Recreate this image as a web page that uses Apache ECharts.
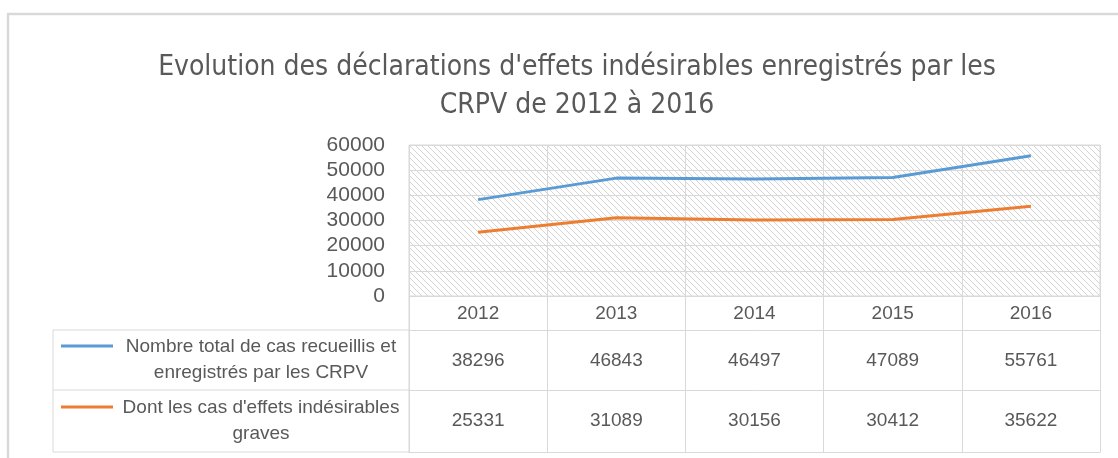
<!DOCTYPE html>
<html>
<head>
<meta charset="utf-8">
<script src="https://cdn.jsdelivr.net/npm/echarts@6/dist/echarts.min.js"></script>
<style>
html,body{margin:0;padding:0;background:#fff;}
#chart{width:1118px;height:458px;}
</style>
</head>
<body>
<div id="chart"></div>
<script>
const titleText = "Evolution des déclarations d'effets indésirables enregistrés par les\nCRPV de 2012 à 2016";
const years = ['2012', '2013', '2014', '2015', '2016'];
const seriesNames = [
  'Nombre total de cas recueillis et\nenregistrés par les CRPV',
  "Dont les cas d'effets indésirables\ngraves"
];
const totalCases = [38296, 46843, 46497, 47089, 55761];
const seriousCases = [25331, 31089, 30156, 30412, 35622];
const yTicks = [0, 10000, 20000, 30000, 40000, 50000, 60000];

const colors = ['#5b9bd5', '#ed7d31'];
const textColor = '#595959';
const lineGray = '#d9d9d9';
const font = 'Liberation Sans, Arial, sans-serif';

// hatch pattern
const tile = document.createElement('canvas');
tile.width = 6; tile.height = 6;
const ctx = tile.getContext('2d');
ctx.fillStyle = '#ffffff';
ctx.fillRect(0, 0, 6, 6);
ctx.strokeStyle = '#d4d4d4';
ctx.lineWidth = 1;
ctx.beginPath();
ctx.moveTo(-1, -1); ctx.lineTo(7, 7);
ctx.moveTo(-1, 5); ctx.lineTo(1, 7);
ctx.moveTo(5, -1); ctx.lineTo(7, 1);
ctx.stroke();

const gridLeft = 409, gridTop = 145, gridRight = 18, gridH = 151;
const plotBottom = gridTop + gridH; // 296
const row1 = 330, row2 = 390, tableBottom = 452;
const colLeft = 53;

const chart = echarts.init(document.getElementById('chart'), null, {renderer: 'canvas'});

function valueAxis(idx, offset, values, margin, showLine) {
  return {
    type: 'category', gridIndex: 0, position: 'bottom', offset: offset,
    data: years, boundaryGap: true,
    axisLine: {show: showLine, lineStyle: {color: lineGray, width: 1}},
    axisTick: {show: false},
    splitLine: {show: false},
    axisLabel: {
      show: values !== null, margin: margin, color: textColor, fontSize: 19, fontFamily: font,
      formatter: function (v, i) { return values ? String(values[i]) : ''; }
    }
  };
}

const legendGraphics = [];
[[row1, row2], [row2, tableBottom]].forEach(function (r, i) {
  const mid = (r[0] + r[1]) / 2;
  legendGraphics.push({
    type: 'line', shape: {x1: 61, y1: mid - 14, x2: 113, y2: mid - 14},
    style: {stroke: colors[i], lineWidth: 3}
  });
  legendGraphics.push({
    type: 'text', x: 261, y: mid,
    style: {text: seriesNames[i], fill: textColor, font: '19px ' + font,
      align: 'center', verticalAlign: 'middle', lineHeight: 26}
  });
});

const option = {
  backgroundColor: '#ffffff',
  animation: false,
  title: {
    text: titleText, left: 572, top: 44, textAlign: 'center',
    textStyle: {color: textColor, fontSize: 28, fontWeight: 'normal',
      fontFamily: 'Liberation Sans Narrow, DejaVu Sans Condensed, sans-serif', lineHeight: 38}
  },
  grid: {
    left: gridLeft, top: gridTop, right: gridRight, height: gridH,
    show: true, backgroundColor: {image: tile, repeat: 'repeat'},
    borderColor: lineGray, borderWidth: 1
  },
  xAxis: [
    {
      type: 'category', data: years, boundaryGap: true, position: 'bottom',
      axisLine: {show: true, lineStyle: {color: lineGray}},
      axisTick: {show: true, length: tableBottom - plotBottom, lineStyle: {color: lineGray}},
      splitLine: {show: true, lineStyle: {color: lineGray}},
      axisLabel: {margin: 8, color: textColor, fontSize: 19, fontFamily: font}
    },
    valueAxis(1, row1 - plotBottom, totalCases, 21, true),
    valueAxis(2, row2 - plotBottom, seriousCases, 21, true),
    valueAxis(3, tableBottom - plotBottom, null, 8, true)
  ],
  yAxis: {
    type: 'value', min: yTicks[0], max: yTicks[yTicks.length - 1], interval: yTicks[1] - yTicks[0],
    axisLine: {show: false}, axisTick: {show: false},
    splitLine: {show: true, lineStyle: {color: lineGray}},
    axisLabel: {margin: 24, color: textColor, fontSize: 21, fontFamily: font,
      formatter: function (v) { return String(v); }}
  },
  series: [
    {name: seriesNames[0], type: 'line', data: totalCases, showSymbol: false, symbol: 'none',
      lineStyle: {color: colors[0], width: 3}, itemStyle: {color: colors[0]}},
    {name: seriesNames[1], type: 'line', data: seriousCases, showSymbol: false, symbol: 'none',
      lineStyle: {color: colors[1], width: 3}, itemStyle: {color: colors[1]}}
  ],
  graphic: [
    // outer chart frame
    {type: 'line', shape: {x1: 7, y1: 14, x2: 1118, y2: 14}, style: {stroke: '#d9d9d9', lineWidth: 2.5}},
    {type: 'line', shape: {x1: 8, y1: 14, x2: 8, y2: 458}, style: {stroke: '#d9d9d9', lineWidth: 2.5}},
    // left column of the data table
    {type: 'line', shape: {x1: colLeft, y1: row1, x2: gridLeft, y2: row1}, style: {stroke: lineGray, lineWidth: 1}},
    {type: 'line', shape: {x1: colLeft, y1: row2, x2: gridLeft, y2: row2}, style: {stroke: lineGray, lineWidth: 1}},
    {type: 'line', shape: {x1: colLeft, y1: tableBottom, x2: gridLeft, y2: tableBottom}, style: {stroke: lineGray, lineWidth: 1}},
    {type: 'line', shape: {x1: colLeft, y1: row1, x2: colLeft, y2: tableBottom}, style: {stroke: lineGray, lineWidth: 1}},
    {type: 'line', shape: {x1: gridLeft, y1: plotBottom, x2: gridLeft, y2: tableBottom}, style: {stroke: lineGray, lineWidth: 1}}
  ].concat(legendGraphics)
};
chart.setOption(option);
</script>
</body>
</html>
